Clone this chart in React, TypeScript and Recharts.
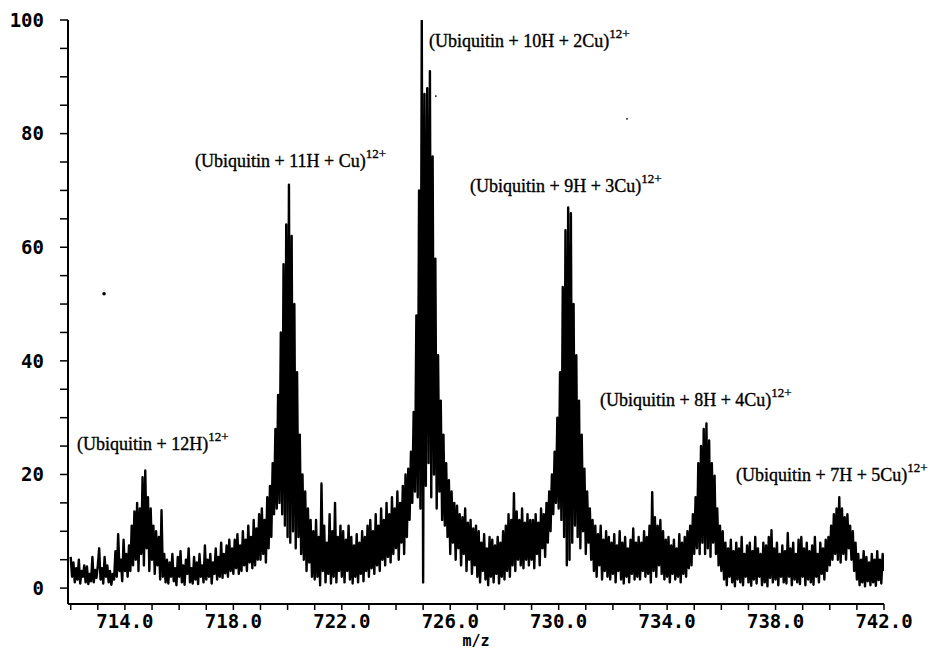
import React from 'react';
import { ComposedChart, Line, Scatter, XAxis, YAxis } from 'recharts';

// Sampling grid of the spectrum (m/z)
const MZ_START = 712;
const MZ_STEP = 0.05;

// Relative intensity (%), 20 samples per m/z unit
const i712 = [5.5, 2, 4.5, 1, 3.5, 1.5, 5, 0.8, 3, 2, 4, 1, 3.8, 0.7, 2.5, 1.2, 5.5, 1, 3.2, 1.8];
const i713 = [4, 7, 1.5, 3.5, 0.8, 5.5, 2, 4, 1, 3, 0.6, 2.5, 1.5, 6.5, 2, 9.5, 3, 5, 1.2, 8.5];
const i714 = [3, 6, 2, 7.5, 3, 11, 4, 13.5, 5, 15, 3, 14, 6, 19.5, 4, 20.7, 7, 16, 3, 14];
const i715 = [5, 11, 2.5, 10, 4, 9, 1.5, 13.7, 2, 6, 1, 5, 0.8, 4.5, 2, 6, 1.2, 3.5, 0.5, 5.5];
const i716 = [2, 6.5, 1, 4, 0.6, 5, 2.5, 7, 1, 3.5, 0.8, 5.5, 1.5, 4.5, 0.7, 6, 2, 4, 1, 7.5];
const i717 = [1.5, 5, 2, 6, 0.8, 4.5, 2.5, 7, 1.5, 5.5, 2, 8, 1.8, 6, 2.6, 7.5, 2, 8.5, 3, 7];
const i718 = [2.5, 8.5, 3.5, 9.5, 2.5, 7.5, 3, 10, 4, 8.5, 3, 11, 4.5, 9, 3.5, 12, 4, 10.5, 5, 13];
const i719 = [5, 14, 6, 12, 4.5, 16, 7, 18, 9, 22, 13, 28, 14, 34, 15, 45, 13, 57, 11, 64];
const i720 = [9, 71, 8, 62, 10, 50, 7, 38, 9, 27, 6, 20, 5, 17, 3, 14, 4.5, 12, 2, 10];
const i721 = [1.5, 12, 2, 9, 0.5, 18.4, 3, 11, 1, 8, 2.5, 13, 0.8, 10, 2, 15, 1, 9, 3, 11];
const i722 = [2, 10, 1, 8.5, 3, 11, 1.5, 9, 0.8, 7.5, 2, 9.5, 1, 8, 2.5, 10, 1.2, 9, 3, 11];
const i723 = [2, 12, 3.5, 10, 2.5, 13, 4, 11, 3, 14, 5, 12, 4, 15, 5.5, 13, 4.5, 16, 6, 14];
const i724 = [7, 17, 5, 15, 8, 18, 6, 20, 9, 21, 12, 24, 15, 31, 17, 48, 16, 70, 14, 100];
const i725 = [1, 87, 18, 88, 22, 91, 16, 76, 20, 58, 14, 41, 17, 33, 12, 27, 11, 22, 9, 19];
const i726 = [6, 17, 8, 15, 5, 14.5, 7, 13, 4, 12.5, 6, 14, 3, 11.5, 5, 12, 2.5, 10.5, 4, 11];
const i727 = [2, 10, 1, 8, 3, 9.5, 1.5, 7, 0.5, 9, 2, 8.5, 1, 7.5, 2.5, 9, 0.8, 8, 2, 10];
const i728 = [1.5, 11, 3, 13, 2, 12, 4, 16.7, 3, 13.5, 5, 12, 4, 14, 3.5, 11.5, 5, 13, 4, 12];
const i729 = [5, 12, 3.5, 13, 6, 11.5, 4, 14, 7, 13, 5.5, 15, 8, 17, 10, 20, 13, 24, 15, 30];
const i730 = [14, 38, 12, 53, 9, 63, 4, 67, 5, 66, 8, 50, 11, 41, 9, 33, 7, 27, 10, 21];
const i731 = [6, 17, 8, 14, 5, 12, 3, 11, 2, 9.5, 4, 11, 1.5, 8.5, 3, 10, 2, 9, 1.5, 8];
const i732 = [2.5, 9.5, 1, 7.5, 3, 10, 1.5, 8, 0.8, 9, 2, 7, 1, 8.5, 2.5, 10.5, 1.5, 8, 2, 9];
const i733 = [1.5, 8, 3, 10, 2, 9, 2.5, 11, 1, 16.9, 3, 12.5, 2, 11, 4, 12, 2.5, 10, 1.5, 8.5];
const i734 = [2, 9, 1, 7.5, 2.5, 8.5, 1.5, 7, 2, 9.5, 1, 8, 2.5, 9, 2, 10, 3.5, 11, 4, 13];
const i735 = [6, 16, 7, 22, 6, 25, 8, 28, 6, 29, 7, 26, 5.5, 22, 8, 19.8, 6, 14, 4, 11];
const i736 = [3, 10, 1.5, 8, 0.5, 7, 2, 8.5, 1, 6.5, 0.3, 8, 1.5, 7, 1, 9, 0.5, 6, 2, 7.5];
const i737 = [1, 8, 0.4, 6.5, 1.5, 9, 0.8, 7, 2, 6, 0.5, 8, 1, 7.5, 0.3, 9, 1.8, 10.2, 1, 7];
const i738 = [1.5, 8, 0.5, 6, 2, 7.5, 1, 6.5, 0.8, 9.7, 2, 7, 0.5, 8, 1.5, 6, 1, 8.5, 0.7, 9];
const i739 = [2, 7, 0.5, 8, 1.5, 6.5, 1, 7.5, 0.6, 9, 2, 6, 1, 8, 2.5, 7, 1.5, 8.5, 3, 9];
const i740 = [4, 11, 5, 13, 6, 14, 5, 16, 4.5, 14, 6, 12.5, 5, 13, 7, 11, 5, 10, 3, 8];
const i741 = [1.5, 6, 0.5, 5, 1, 6.5, 0.3, 5.5, 1.2, 4.5, 0.5, 6, 1, 5, 0.4, 6.5, 1.4, 5, 0.8, 6];
const i742 = [3];

const intensity = [
  ...i712, ...i713, ...i714, ...i715, ...i716, ...i717, ...i718, ...i719, ...i720, ...i721,
  ...i722, ...i723, ...i724, ...i725, ...i726, ...i727, ...i728, ...i729, ...i730, ...i731,
  ...i732, ...i733, ...i734, ...i735, ...i736, ...i737, ...i738, ...i739, ...i740, ...i741,
  ...i742,
];

// Stray specks on the original scan
const strayMz = [713.23, 725.47, 732.52];
const strayIntensity = [51.8, 86.6, 82.6];
const straySize = [1.8, 0.9, 0.9];

// Axis ticks
const xTicks = [712, 713, 714, 715, 716, 717, 718, 719, 720, 721, 722, 723, 724, 725, 726, 727, 728, 729, 730, 731, 732, 733, 734, 735, 736, 737, 738, 739, 740, 741, 742];
const xLabelTicks = [714, 718, 722, 726, 730, 734, 738, 742];
const yTicks = [0, 5, 10, 15, 20, 25, 30, 35, 40, 45, 50, 55, 60, 65, 70, 75, 80, 85, 90, 95, 100];
const yLabelTicks = [0, 20, 40, 60, 80, 100];

// Peak labels
const peakLabels = [
  '(Ubiquitin + 12H)',
  '(Ubiquitin + 11H + Cu)',
  '(Ubiquitin + 10H + 2Cu)',
  '(Ubiquitin + 9H + 3Cu)',
  '(Ubiquitin + 8H + 4Cu)',
  '(Ubiquitin + 7H + 5Cu)',
];
const chargeLabel = '12+';
const xAxisTitle = 'm/z';

const spectrum = intensity.map((v, i) => ({
  mz: Math.round((MZ_START + i * MZ_STEP) * 100) / 100,
  intensity: v,
}));
const strayDots = strayMz.map((m, i) => ({ mz: m, intensity: strayIntensity[i], size: straySize[i] }));

const labelPos = [
  { x: 77, y: 450 },
  { x: 195, y: 167 },
  { x: 429, y: 47 },
  { x: 470, y: 192 },
  { x: 600, y: 406 },
  { x: 736, y: 481 },
];

const AXIS_FONT = '"DejaVu Sans Mono", monospace';
const LABEL_FONT = '"Liberation Serif", "Times New Roman", serif';

const XTick = (props: any) => {
  const { x, y, payload } = props;
  if (!xLabelTicks.includes(payload.value)) return null;
  return (
    <text x={x} y={y + 16} textAnchor="middle" fontFamily={AXIS_FONT} fontWeight="bold" fontSize={19} fill="#000">
      {payload.value.toFixed(1)}
    </text>
  );
};

const YTick = (props: any) => {
  const { x, y, payload } = props;
  if (!yLabelTicks.includes(payload.value)) return null;
  return (
    <text x={x - 14} y={y} dy="0.36em" textAnchor="end" fontFamily={AXIS_FONT} fontWeight="bold" fontSize={19} fill="#000">
      {payload.value}
    </text>
  );
};

const Dot = (props: any) => {
  const { cx, cy, payload } = props;
  return <circle cx={cx} cy={cy} r={payload.size} fill="#000" />;
};

export default function App() {
  return (
    <div style={{ position: 'absolute', left: 0, top: 0, width: 938, height: 649, background: '#fff' }}>
      <ComposedChart
        width={938}
        height={649}
        data={spectrum}
        margin={{ top: 20, right: 54, bottom: 0, left: 8 }}
      >
        <XAxis
          dataKey="mz"
          type="number"
          domain={[711.9, 742]}
          allowDataOverflow
          ticks={xTicks}
          interval={0}
          height={45}
          tickSize={6}
          tickLine={{ stroke: '#000', strokeWidth: 1.5 }}
          axisLine={{ stroke: '#000', strokeWidth: 2 }}
          tick={<XTick />}
        />
        <YAxis
          type="number"
          domain={[-2.8, 100]}
          allowDataOverflow
          ticks={yTicks}
          interval={0}
          width={60}
          tickSize={8}
          tickLine={{ stroke: '#000', strokeWidth: 1.5 }}
          axisLine={{ stroke: '#000', strokeWidth: 2 }}
          tick={<YTick />}
        />
        <Line
          type="linear"
          dataKey="intensity"
          stroke="#000"
          strokeWidth={2.4}
          strokeLinejoin="round"
          dot={false}
          activeDot={false}
          isAnimationActive={false}
        />
        <Scatter data={strayDots} dataKey="intensity" shape={<Dot />} isAnimationActive={false} />
      </ComposedChart>
      <svg width={938} height={649} style={{ position: 'absolute', left: 0, top: 0, pointerEvents: 'none' }}>
        {peakLabels.map((t, i) => (
          <text key={t} x={labelPos[i].x} y={labelPos[i].y} fontFamily={LABEL_FONT} fontSize={18} fill="#000" stroke="#000" strokeWidth={0.35}>
            {t}
            <tspan dy={-9} fontSize={13}>{chargeLabel}</tspan>
          </text>
        ))}
        <text x={476} y={646} textAnchor="middle" fontFamily={AXIS_FONT} fontWeight="bold" fontSize={15} fill="#000">
          {xAxisTitle}
        </text>
      </svg>
    </div>
  );
}
